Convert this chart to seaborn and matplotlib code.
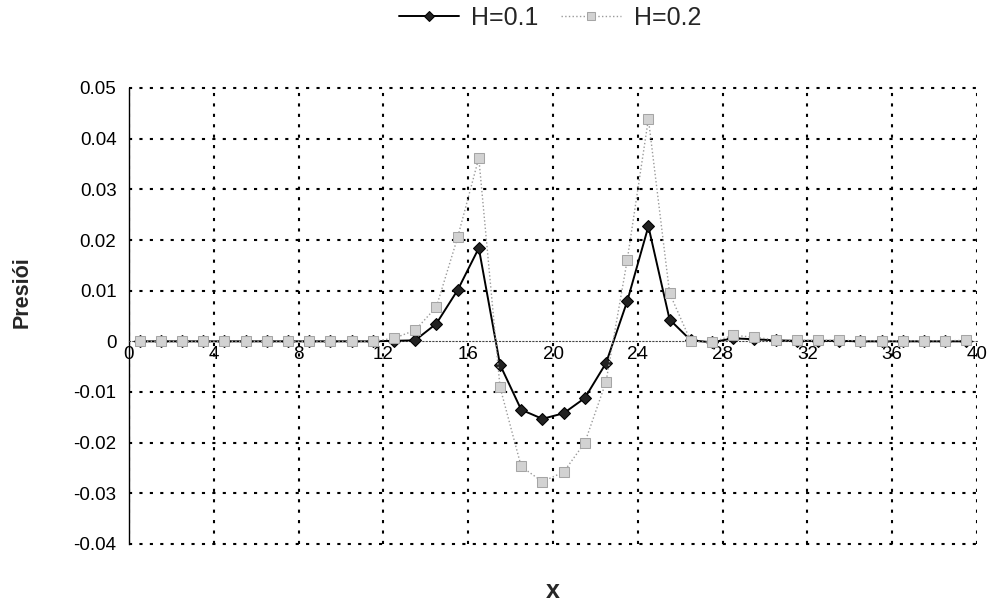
import matplotlib
matplotlib.use('Agg')
import matplotlib.pyplot as plt
import seaborn as sns

# Data
x_vals = [0.5, 1.5, 2.5, 3.5, 4.5, 5.5, 6.5, 7.5, 8.5, 9.5,
          10.5, 11.5, 12.5, 13.5, 14.5, 15.5, 16.5, 17.5, 18.5, 19.5,
          20.5, 21.5, 22.5, 23.5, 24.5, 25.5, 26.5, 27.5, 28.5, 29.5,
          30.5, 31.5, 32.5, 33.5, 34.5, 35.5, 36.5, 37.5, 38.5, 39.5]
h01 = [0.0, 0.0, 0.0, 0.0, 0.0, 0.0, 0.0, 0.0, 0.0, 0.0,
       0.0, 0.0, 0.0001, 0.0002, 0.0035, 0.0101, 0.0184, -0.0046, -0.0135, -0.0153,
       -0.0142, -0.0112, -0.0043, 0.0079, 0.0227, 0.0043, 0.0002, -0.0002, 0.0006, 0.0004,
       0.0002, 0.0001, 0.0001, 0.0001, 0.0, 0.0, 0.0, 0.0, 0.0, 0.0]
h02 = [0.0, 0.0, 0.0, 0.0, 0.0, 0.0, 0.0, 0.0, 0.0, 0.0,
       0.0, 0.0, 0.0006, 0.0022, 0.0068, 0.0205, 0.0362, -0.0090, -0.0247, -0.0277,
       -0.0258, -0.0200, -0.0080, 0.0160, 0.0439, 0.0095, 0.0, -0.0002, 0.0012, 0.0008,
       0.0003, 0.0002, 0.0002, 0.0002, 0.0001, 0.0001, 0.0001, 0.0001, 0.0001, 0.0002]

x_ticks = [0, 4, 8, 12, 16, 20, 24, 28, 32, 36, 40]
y_ticks = [-0.04, -0.03, -0.02, -0.01, 0.0, 0.01, 0.02, 0.03, 0.04, 0.05]
y_tick_labels = ['-0.04', '-0.03', '-0.02', '-0.01', '0', '0.01', '0.02', '0.03', '0.04', '0.05']

sns.set_style('white')
plt.rcParams['font.family'] = ['Liberation Sans', 'DejaVu Sans']

fig = plt.figure(figsize=(9.89, 6.02), dpi=100)
ax = fig.add_axes([129 / 989, 1 - 544 / 602, (977 - 129) / 989, (544 - 88) / 602])

# H=0.1: black solid line with diamonds
sns.lineplot(x=x_vals, y=h01, ax=ax, color='black', linewidth=1.4,
             marker='D', markersize=6, markerfacecolor='#222222',
             markeredgecolor='black', label='H=0.1', zorder=3)
# H=0.2: grey dotted line with squares (drawn on top)
sns.lineplot(x=x_vals, y=h02, ax=ax, color='#9a9a9a', linewidth=1.0,
             linestyle=':', marker='s', markersize=7, markerfacecolor='#d2d2d2',
             markeredgecolor='#a5a5a5', label='H=0.2', zorder=4)

ax.set_xlim(0, 40)
ax.set_ylim(-0.04, 0.05)
ax.set_xticks(x_ticks)
ax.set_xticklabels([str(t) for t in x_ticks])
ax.set_yticks(y_ticks)
ax.set_yticklabels(y_tick_labels)
ax.tick_params(axis='both', length=0, labelsize=13.5, colors='black')
ax.tick_params(axis='y', pad=9)
ax.tick_params(axis='x', pad=3)

# dotted grid like the Excel original
ax.grid(True, color='black', linestyle=(0, (1.5, 3.5)), linewidth=1.5)
for line in ax.get_xgridlines() + ax.get_ygridlines():
    line.set_clip_on(False)
for line, t in zip(ax.get_ygridlines(), y_ticks):
    if t == 0.0:
        line.set_visible(False)

# x axis crosses at zero
ax.spines['bottom'].set_position(('data', 0))
ax.spines['bottom'].set_linestyle((0, (1, 2)))
ax.spines['bottom'].set_linewidth(0.8)
ax.spines['bottom'].set_color('#444444')
ax.spines['top'].set_visible(False)
ax.spines['right'].set_visible(False)
ax.spines['left'].set_color('black')
ax.spines['left'].set_linewidth(1.0)

ax.set_xlabel('')
ax.set_ylabel('')
fig.text(553 / 989, 1 - 591 / 602, 'x', ha='center', va='center',
         fontsize=18, fontweight='bold')
fig.text(22 / 989, 1 - 292 / 602, 'Presiói', ha='center', va='center',
         rotation=90, fontsize=15.5, fontweight='bold')

handles, labels = ax.get_legend_handles_labels()
ax.get_legend().remove()
fig.legend(handles, labels, loc='center', bbox_to_anchor=(550 / 989, 1 - 18 / 602),
           ncol=2, frameon=False, fontsize=18, handlelength=2.4,
           columnspacing=0.9, handletextpad=0.5, markerscale=0.85)

fig.savefig('out.png', dpi=100)
